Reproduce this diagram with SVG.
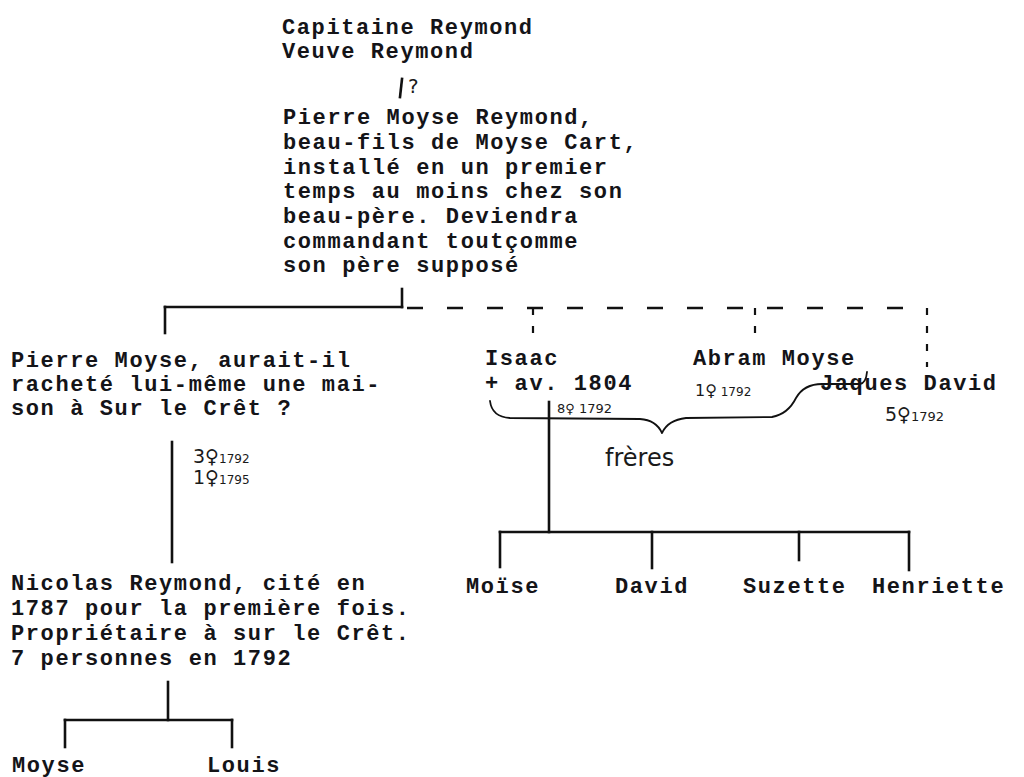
<svg xmlns="http://www.w3.org/2000/svg" width="1024" height="777" viewBox="0 0 1024 777">
<style>
.t{font-family:"Liberation Mono","DejaVu Sans Mono",monospace;font-size:22px;letter-spacing:1.6px;font-weight:bold;fill:#141418}
.h{font-family:"DejaVu Sans","Liberation Sans",sans-serif;fill:#1a1a1a}
.s{font-size:19px}
.y{font-size:12px}
.ln{stroke:#111;stroke-width:2.6;fill:none;stroke-linecap:square}
.ds{stroke:#111;stroke-width:2.6;fill:none;stroke-dasharray:16 24}
.dv{stroke:#111;stroke-width:2.2;fill:none;stroke-dasharray:7 11}
.br{stroke:#111;stroke-width:1.8;fill:none;stroke-linecap:round;stroke-linejoin:round}
</style>
<rect width="1024" height="777" fill="#fff"/>
<g id="connectors">
<line class="ln" x1="402" y1="79" x2="400" y2="97"/>
<line class="ln" x1="402" y1="289" x2="402" y2="307"/>
<line class="ln" x1="165" y1="307" x2="402" y2="307"/>
<line class="ln" x1="165" y1="307" x2="165" y2="333"/>
<line class="ds" x1="407" y1="308" x2="927" y2="308"/>
<line class="dv" x1="533" y1="308" x2="533" y2="343"/>
<line class="dv" x1="755" y1="308" x2="755" y2="343"/>
<line class="dv" x1="927" y1="308" x2="927" y2="367"/>
<line class="ln" x1="172" y1="442" x2="172" y2="562"/>
<line class="ln" x1="168" y1="682" x2="168" y2="720"/>
<line class="ln" x1="65" y1="720" x2="232" y2="720"/>
<line class="ln" x1="65" y1="720" x2="65" y2="747"/>
<line class="ln" x1="232" y1="720" x2="232" y2="747"/>
<line class="ln" x1="549" y1="402" x2="549" y2="532"/>
<line class="ln" x1="500" y1="532" x2="909" y2="532"/>
<line class="ln" x1="500" y1="532" x2="500" y2="567"/>
<line class="ln" x1="652" y1="532" x2="652" y2="568"/>
<line class="ln" x1="799" y1="532" x2="799" y2="560"/>
<line class="ln" x1="909" y1="532" x2="909" y2="570"/>
<path class="br" d="M490,401 Q492,417 510,418 L640,419 Q656,420 662,433 Q668,420 686,418 L772,417 Q788,414 796,398 Q804,384 822,384 L860,384 Q866,383 867,372"/>
</g>
<g id="parents">
<text class="t" x="282" y="34">Capitaine Reymond</text>
<text class="t" x="282" y="58">Veuve Reymond</text>
<text class="h" x="408" y="93" font-size="20">?</text>
</g>
<g id="pierre-moyse-reymond">
<text class="t" x="283" y="124">Pierre Moyse Reymond,</text>
<text class="t" x="283" y="149">beau-fils de Moyse Cart,</text>
<text class="t" x="283" y="174">installé en un premier</text>
<text class="t" x="283" y="198">temps au moins chez son</text>
<text class="t" x="283" y="223">beau-père. Deviendra</text>
<text class="t" x="283" y="248">commandant toutçomme</text>
<text class="t" x="283" y="272">son père supposé</text>
</g>
<g id="pierre-moyse">
<text class="t" x="11" y="367">Pierre Moyse, aurait-il</text>
<text class="t" x="11" y="391">racheté lui-même une mai-</text>
<text class="t" x="11" y="415">son à Sur le Crêt ?</text>
<text class="h" x="193" y="463"><tspan class="s">3♀</tspan><tspan class="y">1792</tspan></text>
<text class="h" x="193" y="484"><tspan class="s">1♀</tspan><tspan class="y">1795</tspan></text>
</g>
<g id="isaac">
<text class="t" x="485" y="365">Isaac</text>
<text class="t" x="485" y="390">+ av. 1804</text>
<text class="h" x="557" y="413" font-size="13">8♀ 1792</text>
</g>
<g id="abram-moyse">
<text class="t" x="693" y="365">Abram Moyse</text>
<text class="h" x="695" y="396"><tspan font-size="16">1♀</tspan><tspan class="y"> 1792</tspan></text>
</g>
<g id="jaques-david">
<text class="t" x="820" y="390">Jaques David</text>
<text class="h" x="885" y="421"><tspan class="s">5♀</tspan><tspan font-size="13">1792</tspan></text>
</g>
<g id="freres">
<text class="h" x="605" y="466" font-size="24">frères</text>
</g>
<g id="nicolas-reymond">
<text class="t" x="11" y="590">Nicolas Reymond, cité en</text>
<text class="t" x="11" y="615">1787 pour la première fois.</text>
<text class="t" x="11" y="640">Propriétaire à sur le Crêt.</text>
<text class="t" x="11" y="665">7 personnes en 1792</text>
</g>
<g id="moise"><text class="t" x="466" y="593">Moïse</text></g>
<g id="david"><text class="t" x="615" y="593">David</text></g>
<g id="suzette"><text class="t" x="743" y="593">Suzette</text></g>
<g id="henriette"><text class="t" x="872" y="593">Henriette</text></g>
<g id="moyse"><text class="t" x="12" y="772">Moyse</text></g>
<g id="louis"><text class="t" x="207" y="772">Louis</text></g>
</svg>
